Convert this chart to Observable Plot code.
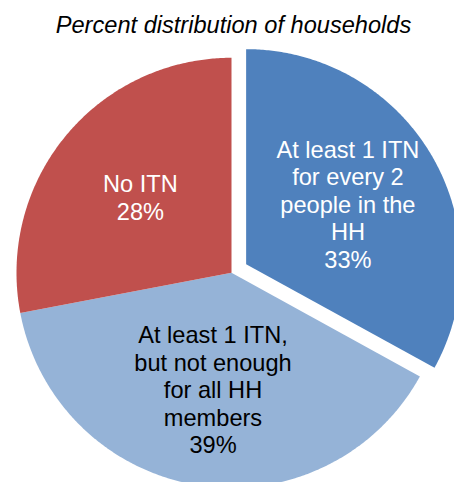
<!DOCTYPE html>
<html>
<head>
<meta charset="utf-8">
<script src="https://cdn.jsdelivr.net/npm/d3@7"></script>
<script src="https://cdn.jsdelivr.net/npm/@observablehq/plot@0.6"></script>
<style>
  html, body { margin: 0; padding: 0; background: #fff; overflow: hidden; }
  #title {
    box-sizing: border-box; height: 39px; padding-top: 11px; padding-left: 13px;
    text-align: center; font-family: "Liberation Sans", Arial, sans-serif;
    font-style: italic; font-size: 23.6px; line-height: 28px; color: #000;
  }
  svg { display: block; }
</style>
</head>
<body>
<div id="title">Percent distribution of households</div>
<div id="chart"></div>
<script>
// ---- data ----
const categories = [
  "At least 1 ITN for every 2 people in the HH",
  "At least 1 ITN, but not enough for all HH members",
  "No ITN"
];
const labelTexts = [
  "At least 1 ITN\nfor every 2\npeople in the\nHH",
  "At least 1 ITN,\nbut not enough\nfor all HH\nmembers",
  "No ITN"
];
const percents = [33, 39, 28];

// ---- styling (not data) ----
const palette = ["#4F81BD", "#95B3D7", "#C0504D"];
const textColors = ["#ffffff", "#000000", "#ffffff"];
const explodedCategory = categories[0];
const explodeDist = 17 / 215;  // in radius units
const labelRadius = 0.55;

const arcs = d3.pie().sort(null).value(d => d)(percents);

const polyPoints = [];
const labels = [];
arcs.forEach((a, i) => {
  const mid = (a.startAngle + a.endAngle) / 2;
  const ox = categories[i] === explodedCategory ? explodeDist * Math.sin(mid) : 0;
  const oy = categories[i] === explodedCategory ? explodeDist * Math.cos(mid) : 0;
  polyPoints.push({cat: categories[i], x: ox, y: oy});
  const n = Math.max(2, Math.ceil((a.endAngle - a.startAngle) / (Math.PI / 360)));
  for (let k = 0; k <= n; k++) {
    const t = a.startAngle + (a.endAngle - a.startAngle) * k / n;
    polyPoints.push({cat: categories[i], x: ox + Math.sin(t), y: oy + Math.cos(t)});
  }
  labels.push({
    cat: categories[i],
    text: labelTexts[i] + "\n" + percents[i] + "%",
    x: ox + labelRadius * Math.sin(mid),
    y: oy + labelRadius * Math.cos(mid),
    color: textColors[i]
  });
});

const font = "Liberation Sans, Arial, sans-serif";
const chart = Plot.plot({
  width: 454,
  height: 443,
  margin: 0,
  x: {domain: [-1, 1], range: [16, 446], axis: null},
  y: {domain: [-1, 1], range: [448.3, 18.3], axis: null},
  color: {domain: categories, range: palette},
  style: {overflow: "visible", background: "#fff"},
  marks: [
    Plot.line(polyPoints, {x: "x", y: "y", z: "cat", fill: "cat", stroke: null, curve: "linear-closed"}),
    Plot.text(labels.filter(d => d.color === "#ffffff"), {
      x: "x", y: "y", text: "text", fill: "#ffffff",
      fontSize: 23.6, lineHeight: 1.165, fontFamily: font, textAnchor: "middle"
    }),
    Plot.text(labels.filter(d => d.color !== "#ffffff"), {
      x: "x", y: "y", text: "text", fill: "#000000",
      fontSize: 23.6, lineHeight: 1.165, fontFamily: font, textAnchor: "middle"
    })
  ]
});
document.getElementById("chart").appendChild(chart);
</script>
</body>
</html>
